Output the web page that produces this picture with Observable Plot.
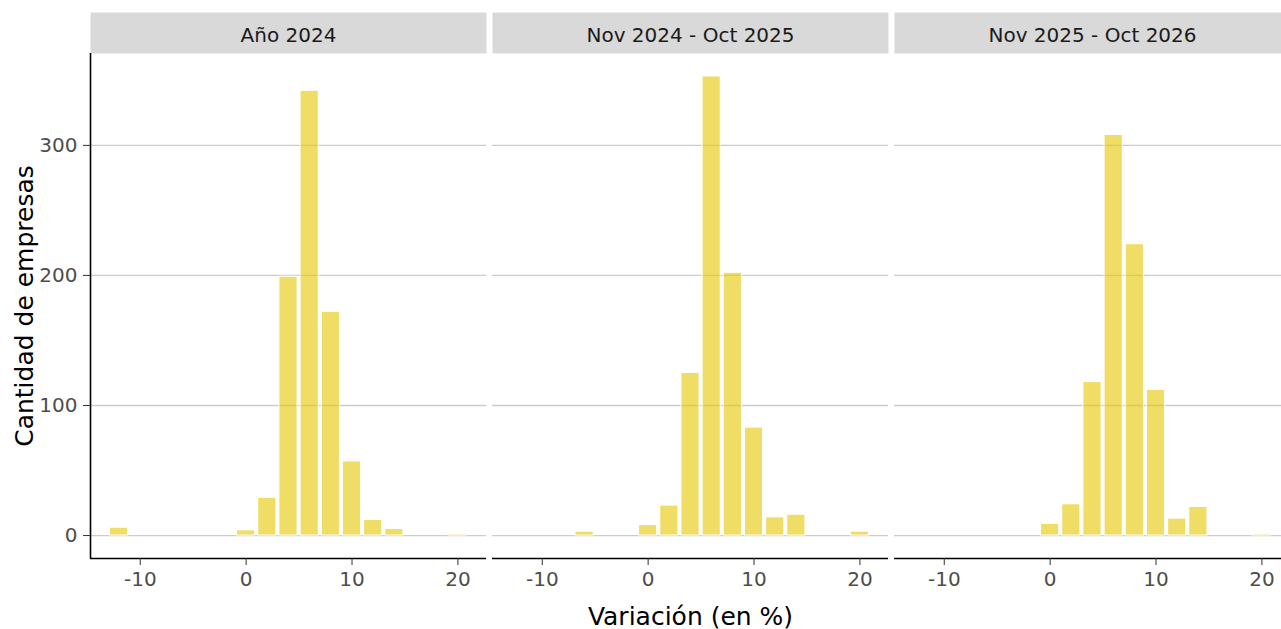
<!DOCTYPE html>
<html><head><meta charset="utf-8">
<script src="https://cdn.jsdelivr.net/npm/d3@7"></script>
<script src="https://cdn.jsdelivr.net/npm/@observablehq/plot@0.6"></script>
<style>html,body{margin:0;padding:0;background:#fff;overflow:hidden}
#chart svg{max-width:none !important;}</style>
</head><body><div id="chart"></div>
<script>
const periods = ["Año 2024", "Nov 2024 - Oct 2025", "Nov 2025 - Oct 2026"];
const binCenters = [-12,-10,-8,-6,-4,-2,0,2,4,6,8,10,12,14,16,18,20];
const counts2024 = [6,0,0,0,0,0,4,29,199,342,172,57,12,5,0,0,1];
const counts2025 = [0,0,0,3,0,0,8,23,125,353,202,83,14,16,0,0,3];
const counts2026 = [0,0,0,0,0,0,9,24,118,308,224,112,13,22,0,0,1];
const binWidth = 2;
const xTicks = [-10,0,10,20];
const yTicks = [0,100,200,300];
const xTitle = "Variación (en %)";
const yTitle = "Cantidad de empresas";

const seriesCounts = [counts2024, counts2025, counts2026];
const rows = [];
periods.forEach((p, i) => binCenters.forEach((c, j) => rows.push({
  period: p, x1: c - binWidth / 2, x2: c + binWidth / 2, count: seriesCounts[i][j]
})));

// ggplot-like 5% expansion
const xlo = d3.min(rows, d => d.x1), xhi = d3.max(rows, d => d.x2);
const xDomain = [xlo - 0.05 * (xhi - xlo), xhi + 0.05 * (xhi - xlo)];
const ymax = d3.max(rows, d => d.count);
const yDomain = [-0.05 * ymax, ymax * 1.05];

const chart = Plot.plot({
  width: 1290, height: 629,
  marginLeft: 90, marginRight: 0, marginTop: 53, marginBottom: 71,
  style: {fontFamily: "DejaVu Sans", background: "white", maxWidth: "none"},
  fx: {domain: periods, paddingInner: 6 / 402, paddingOuter: 0, round: false},
  x: {domain: xDomain},
  y: {domain: yDomain},
  marks: [
    Plot.frame({fill: "#d9d9d9", stroke: null, insetTop: -41, insetBottom: 505}),
    Plot.text(periods, {fx: d => d, text: d => d, frameAnchor: "top", lineAnchor: "middle", dy: -18,
      fontSize: 20, fill: "#1a1a1a"}),
    Plot.gridY({ticks: yTicks, stroke: "#cccccc", strokeOpacity: 1, strokeWidth: 1.3}),
    Plot.rectY(rows, {fx: "period", x1: "x1", x2: "x2", y: "count",
      fill: "#E6C600", fillOpacity: 0.6, stroke: "white", strokeWidth: 1,
      insetLeft: 1.5, insetRight: 1.5}),
    Plot.ruleY([yDomain[0]], {stroke: "black", strokeWidth: 1.6}),
    Plot.ruleX([periods[0]], {fx: d => d, x: () => xDomain[0], stroke: "black", strokeWidth: 1.6}),
    Plot.axisX({ticks: xTicks, tickFormat: d => String(d), tickSize: 7, tickPadding: 6, fontSize: 20,
      fill: "#4d4d4d", stroke: "#333333", label: null}),
    Plot.axisY({ticks: yTicks, tickFormat: d => String(d), tickSize: 7, tickPadding: 6, fontSize: 20,
      fill: "#4d4d4d", stroke: "#333333", label: null}),
    Plot.axisY({ticks: [], label: yTitle, labelArrow: "none", labelAnchor: "center", labelOffset: 75,
      fontSize: 25, fill: "black"}),
    Plot.axisFx({anchor: "bottom", ticks: [], label: xTitle, labelArrow: "none", labelAnchor: "center",
      labelOffset: 66, fontSize: 25, fill: "black"})
  ]
});
document.getElementById("chart").appendChild(chart);
</script>
</body></html>
